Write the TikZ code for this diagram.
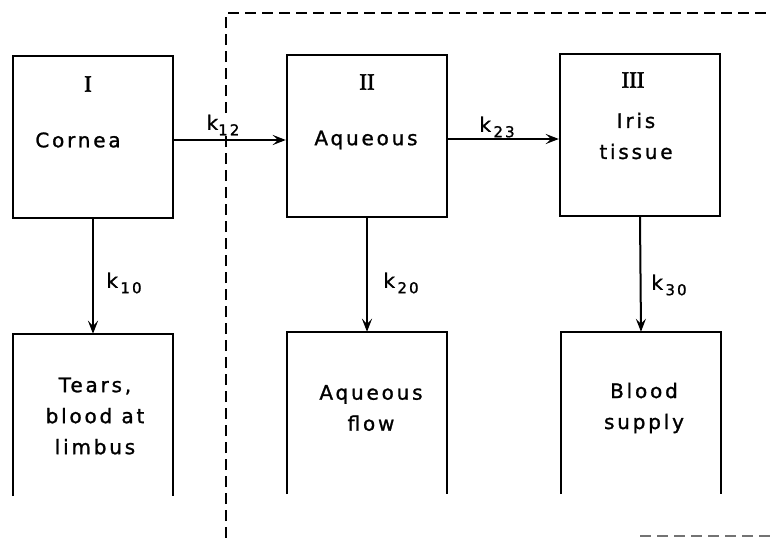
\documentclass[tikz,border=0pt]{standalone}
\usepackage{fontspec}
\setmainfont{DejaVu Sans}[LetterSpace=14, FakeBold=1.2]
\newfontfamily\numfont{Liberation Serif}[FakeBold=2]
\usetikzlibrary{arrows.meta}
\newcommand\rate[2]{k\raisebox{-0.5ex}{\fontsize{15}{15}\selectfont #1#2}}
\tikzset{
  pool/.style={draw, line width=2.4pt, minimum width=160pt, minimum height=162pt, inner sep=0pt},
  sink/.style={minimum width=160pt, minimum height=162pt, inner sep=0pt},
  flow/.style={line width=2pt, -{Stealth[length=13pt,width=10pt,inset=5pt]}},
  walls/.style={line width=2.4pt},
  lbl/.style={font=\fontsize{20}{31}\selectfont, inner sep=1pt, align=center},
  num/.style={font=\numfont\fontsize{23}{23}\selectfont, inner sep=0pt},
  rt/.style={font=\fontsize{20}{20}\selectfont, inner sep=1pt},
  region/.style={line width=2.1pt, dash pattern=on 11pt off 6pt}
}
\begin{document}
\begin{tikzpicture}[x=1pt,y=-1pt]
\useasboundingbox (0,0) rectangle (771,538);

% dashed boundary around the inner compartments
\coordinate (dA) at (226,538);
\coordinate (dB) at (226,13);
\coordinate (dC) at (771,13);
\draw[region] (dA) -- (dB) -- (dC);
\coordinate (eA) at (640,536);
\coordinate (eB) at (771,536);
\draw[region, black!55] (eA) -- (eB);

% compartments
\node[pool] (c1) at (93,137) {};
\node[pool] (c2) at (367,136) {};
\node[pool] (c3) at (640,135) {};

% open-bottomed sinks
\node[sink] (b1) at (93,415) {};
\node[sink] (b2) at (367,413) {};
\node[sink] (b3) at (641,413) {};
\foreach \b in {b1,b2,b3}
  \draw[walls] (\b.south west) -- (\b.north west) -- (\b.north east) -- (\b.south east);

% compartment labels
\node[num] (n1) at (88,84) {I};
\node[lbl] (t1) at (78,140) {Cornea};
\node[num] (n2) at (367,82) {II};
\node[lbl] (t2) at (366,140) {Aqueous};
\node[num] (n3) at (633,80) {III};
\node[lbl] (t3) at (636,136) {Iris\\tissue};

\node[lbl] (s1) at (95,416) {Tears,\\blood at\\limbus};
\node[lbl] (s2) at (371,408) {Aqueous\\flow};
\node[lbl] (s3) at (644,408) {Blood\\supply};

% transfer arrows
\draw[flow] ([yshift=-3pt]c1.east) -- ([yshift=-3pt]c1.east -| c2.west);
\draw[flow] ([yshift=-3pt]c2.east) -- ([yshift=-3pt]c2.east -| c3.west);
\draw[flow] (c1.south) -- (b1.north);
\draw[flow] (c2.south) -- (b2.north);
\draw[flow] (c3.south) -- (b3.north);

% rate constants
\node[rt, fill=white] (k12) at (223,125) {\rate{1}{2}};
\node[rt] (k23) at (497,127) {\rate{\,2}{3}};
\node[rt] (k10) at (124,283) {\rate{\,1}{0}};
\node[rt] (k20) at (401,283) {\rate{\,2}{0}};
\node[rt] (k30) at (669,285) {\rate{\,3}{0}};
\end{tikzpicture}
\end{document}
